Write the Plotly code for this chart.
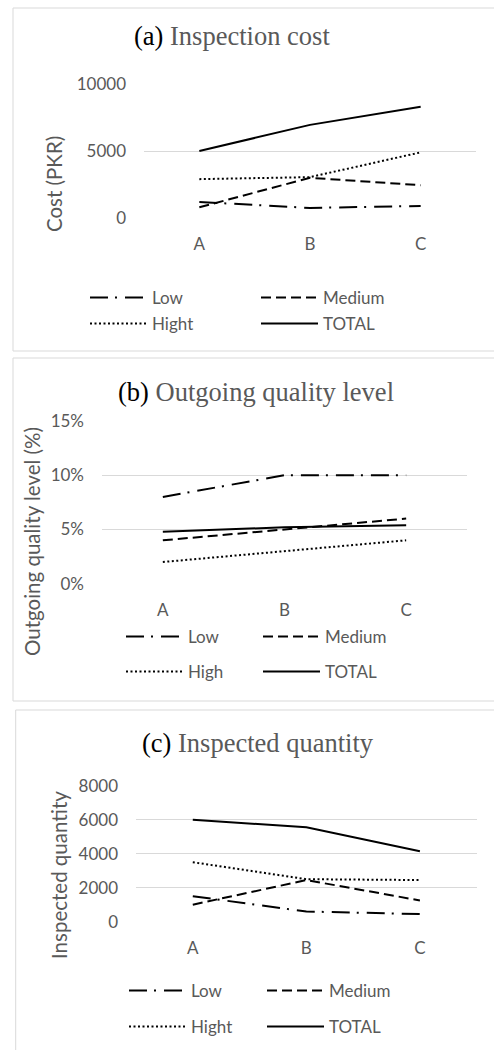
import plotly.graph_objects as go

W, H = 494, 1050

categories = ["A", "B", "C"]

# (a) Inspection cost (PKR)
cost_low = [1200, 750, 900]
cost_medium = [800, 3000, 2450]
cost_high = [2900, 3050, 4900]
cost_total = [5000, 6950, 8300]

# (b) Outgoing quality level (fraction)
oql_low = [0.08, 0.10, 0.10]
oql_medium = [0.04, 0.05, 0.06]
oql_high = [0.02, 0.03, 0.04]
oql_total = [0.048, 0.052, 0.054]

# (c) Inspected quantity
qty_low = [1500, 600, 450]
qty_medium = [1000, 2450, 1250]
qty_high = [3500, 2500, 2450]
qty_total = [6000, 5550, 4150]

names_a = ["Low", "Medium", "Hight", "TOTAL"]
names_b = ["Low", "Medium", "High", "TOTAL"]
names_c = ["Low", "Medium", "Hight", "TOTAL"]

dashes = ["18px,7px,2px,8px", "10px,5px", "2px,2.5px", "solid"]

GRAY = "#595959"
GRID = "#d9d9d9"
SANS = "Lato, 'Open Sans', sans-serif"
SERIF = "'Liberation Serif', 'Times New Roman', serif"


def fx(px):
    return px / W


def fy(py):
    return 1 - py / H


fig = go.Figure()

panels = [
    dict(series=[cost_low, cost_medium, cost_high, cost_total], names=names_a,
         xax="x", yax="y", legends=("legend", "legend2")),
    dict(series=[oql_low, oql_medium, oql_high, oql_total], names=names_b,
         xax="x2", yax="y2", legends=("legend3", "legend4")),
    dict(series=[qty_low, qty_medium, qty_high, qty_total], names=names_c,
         xax="x3", yax="y3", legends=("legend5", "legend6")),
]

for p in panels:
    for i, (vals, name) in enumerate(zip(p["series"], p["names"])):
        fig.add_trace(go.Scatter(
            x=categories, y=vals, name=name, mode="lines",
            line=dict(color="#000000", width=2, dash=dashes[i]),
            xaxis=p["xax"], yaxis=p["yax"],
            legend=p["legends"][0] if i < 2 else p["legends"][1],
            hoverinfo="skip",
        ))

# plot area pixel boxes: (x0, x1, ytop, ybottom)
boxes = [
    (144, 476, 84, 218),
    (102, 467, 421, 583.7),
    (136, 476.7, 785.7, 921.7),
]
yranges = [[0, 10000], [0, 0.15], [0, 8000]]
ydticks = [5000, 0.05, 2000]
yformats = ["d", ".0%", "d"]

axcommon = dict(showline=False, zeroline=False, ticks="", showgrid=True,
                gridcolor=GRID, gridwidth=1,
                tickfont=dict(family=SANS, size=17, color=GRAY))

for k, (x0, x1, yt, yb) in enumerate(boxes):
    sfx = "" if k == 0 else str(k + 1)
    fig.update_layout(**{
        "xaxis" + sfx: dict(domain=[fx(x0), fx(x1)], anchor="y" + sfx,
                            type="category", range=[-0.5, 2.5],
                            showgrid=False, showline=False, zeroline=False,
                            ticks="", ticklabelstandoff=14,
                            tickfont=dict(family=SANS, size=17, color=GRAY)),
        "yaxis" + sfx: dict(domain=[fy(yb), fy(yt)], anchor="x" + sfx,
                            range=yranges[k], dtick=ydticks[k], tick0=0,
                            tickformat=yformats[k], ticklabelstandoff=17,
                            **axcommon),
    })

# titles
titles = [
    ("(a)", "Inspection cost", 232, 36),
    ("(b)", "Outgoing quality level", 256, 392),
    ("(c)", "Inspected quantity", 258, 743),
]
for lab, txt, cx, cy in titles:
    fig.add_annotation(
        text=f"{lab} <span style='color:{GRAY}'>{txt}</span>",
        x=fx(cx), y=fy(cy), xref="paper", yref="paper",
        xanchor="center", yanchor="middle", showarrow=False,
        font=dict(family=SERIF, size=26.5, color="#000000"))

# y-axis titles
ytitles = [("Cost (PKR)", 54, 184), ("Outgoing quality level (%)", 32, 542),
           ("Inspected quantity", 59, 875)]
for txt, cx, cy in ytitles:
    fig.add_annotation(
        text=txt, x=fx(cx), y=fy(cy), xref="paper", yref="paper",
        xanchor="center", yanchor="middle", showarrow=False, textangle=-90,
        font=dict(family=SANS, size=20.5, color=GRAY))

# panel borders
borders = [(13, 8, 520, 351), (13, 358, 520, 701), (15.7, 710, 520, 1080)]
for x0, y0, x1, y1 in borders:
    fig.add_shape(type="rect", xref="paper", yref="paper",
                  x0=fx(x0), x1=fx(x1), y0=fy(y1), y1=fy(y0),
                  line=dict(color=GRID, width=1), fillcolor="rgba(0,0,0,0)",
                  layer="below")

# legends: (name, origin x, y center, entry width)
legpos = [
    ("legend", 85, 298, 99), ("legend2", 85, 324, 99),
    ("legend3", 121, 637, 65), ("legend4", 121, 672, 65),
    ("legend5", 124, 991, 66), ("legend6", 124, 1027, 66),
]
leg_layout = {}
for name, lx, ly, ew in legpos:
    leg_layout[name] = dict(
        orientation="h", x=fx(lx), y=fy(ly), xanchor="left", yanchor="middle",
        entrywidth=ew, entrywidthmode="pixels", itemwidth=57,
        bgcolor="rgba(0,0,0,0)", borderwidth=0, tracegroupgap=0,
        font=dict(family=SANS, size=17, color=GRAY))

fig.update_layout(
    width=W, height=H,
    margin=dict(l=0, r=0, t=0, b=0, pad=0, autoexpand=False),
    paper_bgcolor="white", plot_bgcolor="white",
    showlegend=True, **leg_layout,
)

fig.write_html(
    "out.html",
    config={"displayModeBar": False},
    post_script="document.body.style.margin='0';document.body.style.overflow='hidden';",
)
